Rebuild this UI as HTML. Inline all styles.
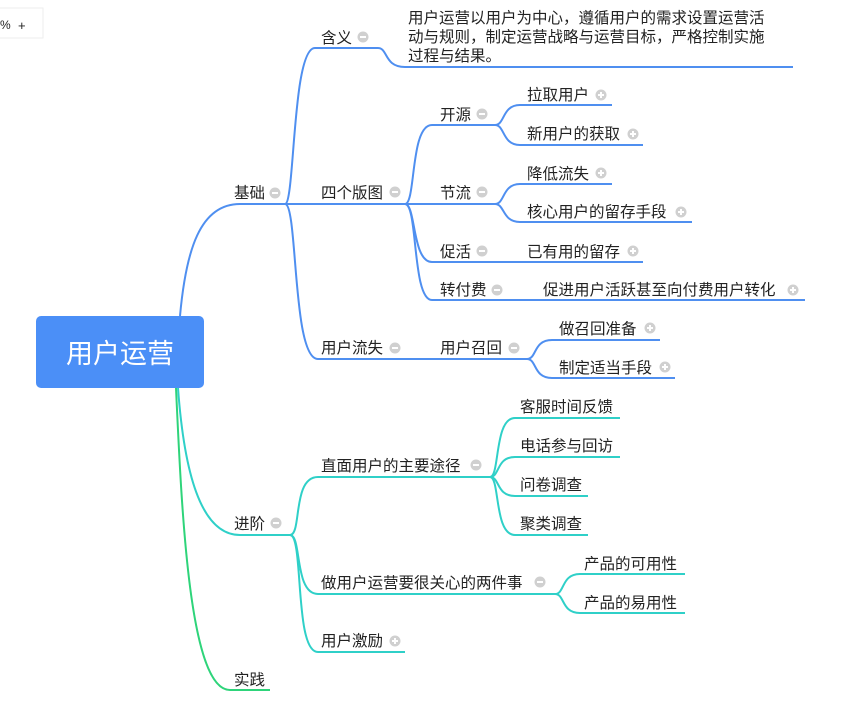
<!DOCTYPE html>
<html><head><meta charset="utf-8"><style>
html,body{margin:0;padding:0;background:#fff;width:864px;height:703px;overflow:hidden}
svg{display:block}
text{font-family:"Liberation Sans","Noto Sans CJK SC",sans-serif;font-size:15.5px;fill:#222}
.b{stroke:#4f8ff0;stroke-width:2;fill:none}
.c{stroke:#2fd0c8;stroke-width:2;fill:none}
.g{stroke:#2ed47a;stroke-width:2;fill:none}
</style></head><body>
<svg width="864" height="703" viewBox="0 0 864 703">
<defs>
<g id="mi"><circle r="5.5" fill="#d0d0d0"/><rect x="-3" y="-1" width="6" height="2" fill="#fff"/></g>
<g id="pl"><circle r="5.5" fill="#d0d0d0"/><rect x="-3" y="-1" width="6" height="2" fill="#fff"/><rect x="-1" y="-3" width="2" height="6" fill="#fff"/></g>
</defs>
<rect x="-5" y="8" width="48" height="30" fill="#fff" stroke="#eee"/>
<text x="0" y="29" style="font-size:12px">%</text><text x="18" y="30" style="font-size:13px">+</text>

<path class="b" d="M180,316 C186,250 200,204 240,204 L285,204"/>
<path class="c" d="M178,388 C184,470 200,535 240,535 L290,535"/>
<path class="g" d="M176,388 C182,520 190,690 230,690 L270,690"/>

<path class="b" d="M285,204 C295,204 292,48 315,48 L378,48 C388,48 384,67 405,67 L793,67"/>
<path class="b" d="M285,204 L405,204"/>
<path class="b" d="M285,204 C298,204 292,359 318,359 L527,359"/>
<path class="b" d="M405,204 C416,204 410,125 432,125 L495,125"/>
<path class="b" d="M405,204 L495,204"/>
<path class="b" d="M405,204 C416,204 412,262 432,262 L643,262"/>
<path class="b" d="M405,204 C418,204 412,300 432,300 L805,300"/>
<path class="b" d="M495,125 C505,125 502,105 520,105 L612,105"/>
<path class="b" d="M495,125 C505,125 502,145 520,145 L643,145"/>
<path class="b" d="M495,204 C505,204 502,184 520,184 L612,184"/>
<path class="b" d="M495,204 C505,204 502,222 520,222 L692,222"/>
<path class="b" d="M527,359 C537,359 533,340 552,340 L660,340"/>
<path class="b" d="M527,359 C537,359 533,378 552,378 L675,378"/>

<path class="c" d="M290,535 C302,535 292,477 318,477 L490,477"/>
<path class="c" d="M290,535 C302,535 294,594 318,594 L555,594"/>
<path class="c" d="M290,535 C304,535 294,652 318,652 L405,652"/>
<path class="c" d="M490,477 C500,477 494,418 515,418 L620,418"/>
<path class="c" d="M490,477 C500,477 496,457 515,457 L620,457"/>
<path class="c" d="M490,477 C500,477 496,496 515,496 L588,496"/>
<path class="c" d="M490,477 C500,477 494,535 515,535 L588,535"/>
<path class="c" d="M555,594 C565,594 561,574 580,574 L685,574"/>
<path class="c" d="M555,594 C565,594 561,613 580,613 L685,613"/>

<rect x="36" y="316" width="168" height="72" rx="5" fill="#4b8ff7"/>
<text x="120" y="363" text-anchor="middle" style="font-size:27px;fill:#fff">用户运营</text>

<text x="234" y="198">基础</text><use href="#mi" x="275" y="193"/>
<text x="321" y="43">含义</text><use href="#mi" x="363" y="37"/>
<text x="408" y="23">用户运营以用户为中心，遵循用户的需求设置运营活</text>
<text x="408" y="42">动与规则，制定运营战略与运营目标，严格控制实施</text>
<text x="408" y="61">过程与结果。</text>
<text x="321" y="198">四个版图</text><use href="#mi" x="395" y="192"/>
<text x="440" y="120">开源</text><use href="#mi" x="482" y="114"/>
<text x="527" y="100">拉取用户</text><use href="#pl" x="601" y="95"/>
<text x="527" y="139">新用户的获取</text><use href="#pl" x="633" y="134"/>
<text x="440" y="198">节流</text><use href="#mi" x="482" y="192"/>
<text x="527" y="179">降低流失</text><use href="#pl" x="601" y="173"/>
<text x="527" y="217">核心用户的留存手段</text><use href="#pl" x="681" y="212"/>
<text x="440" y="257">促活</text><use href="#mi" x="482" y="251"/>
<text x="527" y="257">已有用的留存</text><use href="#pl" x="633" y="251"/>
<text x="440" y="295">转付费</text><use href="#mi" x="497" y="290"/>
<text x="543" y="295">促进用户活跃甚至向付费用户转化</text><use href="#pl" x="793" y="290"/>
<text x="321" y="353">用户流失</text><use href="#mi" x="395" y="348"/>
<text x="440" y="353">用户召回</text><use href="#mi" x="514" y="348"/>
<text x="559" y="334">做召回准备</text><use href="#pl" x="650" y="328"/>
<text x="559" y="373">制定适当手段</text><use href="#pl" x="665" y="367"/>

<text x="234" y="529">进阶</text><use href="#mi" x="276" y="523"/>
<text x="321" y="471">直面用户的主要途径</text><use href="#mi" x="476" y="465"/>
<text x="520" y="412">客服时间反馈</text>
<text x="520" y="451">电话参与回访</text>
<text x="520" y="490">问卷调查</text>
<text x="520" y="529">聚类调查</text>
<text x="321" y="588">做用户运营要很关心的两件事</text><use href="#mi" x="540" y="582"/>
<text x="584" y="569">产品的可用性</text>
<text x="584" y="608">产品的易用性</text>
<text x="321" y="646">用户激励</text><use href="#pl" x="395" y="641"/>
<text x="234" y="685">实践</text>
</svg>
</body></html>
